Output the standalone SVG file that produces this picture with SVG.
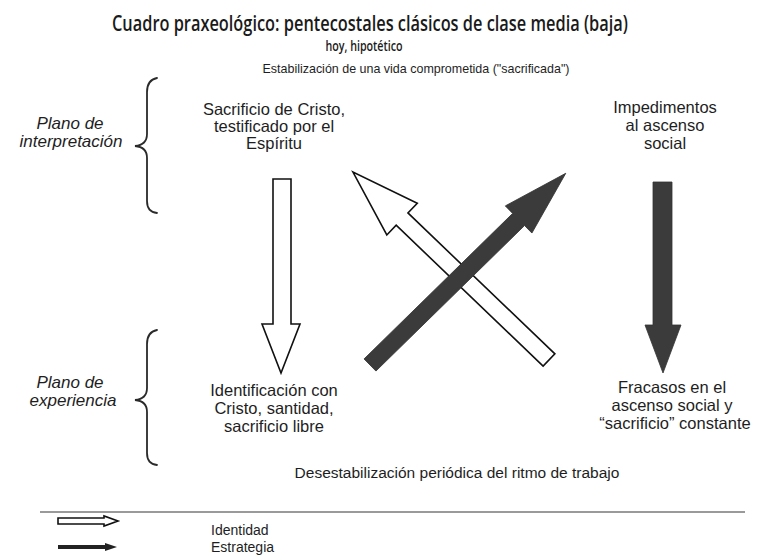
<svg xmlns="http://www.w3.org/2000/svg" width="758" height="555" viewBox="0 0 758 555">
<style>
  .t { font-family: "Liberation Sans", Arial, sans-serif; fill: #1e1e1e; }
  .lbl { font-size: 16.5px; text-anchor: middle; }
  .it { font-size: 17px; font-style: italic; text-anchor: middle; }
  .brace { fill: none; stroke: #2a2a2a; stroke-width: 1.8; stroke-linecap: round; }
  .wa { fill: #ffffff; stroke: #111111; stroke-width: 1.6; stroke-linejoin: miter; }
  .da { fill: #3b3b3b; stroke: #333333; stroke-width: 0.8; }
  .hd { font-family: "Open Sans", "Noto Sans", sans-serif; fill: #1a1a1a; text-anchor: middle; }
</style>
<rect width="758" height="555" fill="#ffffff"/>

<g id="title">
  <text class="hd" x="370" y="31" font-size="21" font-weight="600" textLength="516" lengthAdjust="spacingAndGlyphs">Cuadro praxeológico: pentecostales clásicos de clase media (baja)</text>
  <text class="hd" x="364" y="51" font-size="14.5" font-weight="600" textLength="77" lengthAdjust="spacingAndGlyphs">hoy, hipotético</text>
</g>

<g id="top-label">
  <text class="t" x="416" y="73" font-size="13" text-anchor="middle" textLength="307" lengthAdjust="spacingAndGlyphs">Estabilización de una vida comprometida ("sacrificada")</text>
</g>

<g id="plano-interpretacion">
  <path class="brace" d="M157,78 Q147,80 147,92 L147,134 Q147,145 135,146 Q147,147 147,158 L147,201 Q147,212 157,213"/>
  <text class="t it" x="70" y="129">Plano de</text>
  <text class="t it" x="71" y="147">interpretación</text>
</g>

<g id="plano-experiencia">
  <path class="brace" d="M157,330 Q147,332 147,344 L147,388 Q147,399 135,400 Q147,401 147,412 L147,453 Q147,464 157,465"/>
  <text class="t it" x="70" y="388">Plano de</text>
  <text class="t it" x="73" y="406">experiencia</text>
</g>

<g id="sacrificio">
  <text class="t lbl" x="274" y="115">Sacrificio de Cristo,</text>
  <text class="t lbl" x="274" y="132">testificado por el</text>
  <text class="t lbl" x="274" y="149">Espíritu</text>
</g>

<g id="impedimentos">
  <text class="t lbl" x="665" y="113">Impedimentos</text>
  <text class="t lbl" x="665" y="131">al ascenso</text>
  <text class="t lbl" x="665" y="149">social</text>
</g>

<g id="identificacion">
  <text class="t lbl" x="274" y="396">Identificación con</text>
  <text class="t lbl" x="274" y="414">Cristo, santidad,</text>
  <text class="t lbl" x="274" y="432">sacrificio libre</text>
</g>

<g id="fracasos">
  <text class="t lbl" x="672" y="393">Fracasos en el</text>
  <text class="t lbl" x="672" y="411">ascenso social y</text>
  <text class="t lbl" x="675" y="429">“sacrificio” constante</text>
</g>

<g id="bottom-label">
  <text class="t" x="457" y="478" font-size="15.5" text-anchor="middle">Desestabilización periódica del ritmo de trabajo</text>
</g>

<g id="connectors">
  <polygon class="wa" points="273,179 291,179 291,324 300,324 281,373 262,324 273,324"/>
  <polygon class="wa" transform="translate(549,360) rotate(-136.2)" points="0,-8.5 203.6,-8.5 203.6,-22 271.6,0 203.6,22 203.6,8.5 0,8.5"/>
  <polygon class="da" transform="translate(370,365) rotate(-44.4)" points="0,-8.5 208,-8.5 208,-19 274,0 208,19 208,8.5 0,8.5"/>
  <polygon class="da" points="653,182 672,182 672,325 681,325 663,373 645,325 653,325"/>
</g>

<g id="legend">
  <line x1="40" y1="512" x2="745" y2="512" stroke="#9a9a9a" stroke-width="2"/>
  <polygon class="wa" stroke-width="1.3" points="58,518 104,518 104,516 118,521 104,526 104,524 58,524"/>
  <polygon fill="#222" points="58,545 105,545 105,543 117,547 105,551 105,549 58,549"/>
  <text class="t" x="211" y="535" font-size="14">Identidad</text>
  <text class="t" x="211" y="552" font-size="14">Estrategia</text>
</g>
</svg>
